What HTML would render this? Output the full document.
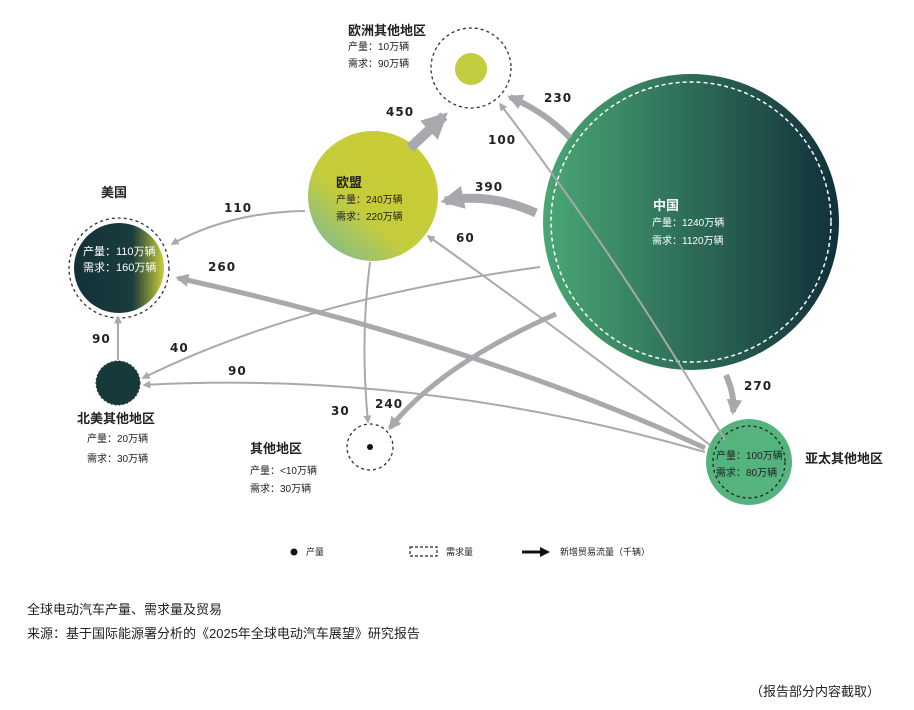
<!DOCTYPE html>
<html><head><meta charset="utf-8"><style>
html,body{margin:0;padding:0;background:#fff;}
svg{display:block;}
text{font-family:"Liberation Sans","Noto Sans CJK SC",sans-serif;}
.n{font-family:"DejaVu Sans","Liberation Sans",sans-serif;font-weight:bold;font-size:12px;fill:#222;letter-spacing:1px;}
.t{font-size:10px;fill:#222;}
.w{font-size:10px;fill:#fff;}
.h{font-size:13px;font-weight:bold;fill:#222;}
</style></head><body>
<svg width="914" height="710" viewBox="0 0 914 710" xmlns="http://www.w3.org/2000/svg">
<defs>
<linearGradient id="cn" x1="0" y1="0" x2="1" y2="0"><stop offset="0" stop-color="#4aa874"/><stop offset="1" stop-color="#11303a"/></linearGradient>
<linearGradient id="eu" x1="0" y1="1" x2="0.6" y2="0.3"><stop offset="0" stop-color="#6db7a6"/><stop offset="0.6" stop-color="#c4cc3c"/><stop offset="1" stop-color="#c8cd36"/></linearGradient>
<linearGradient id="us" x1="0" y1="0" x2="1" y2="0"><stop offset="0" stop-color="#13313a"/><stop offset="0.65" stop-color="#1a3c3c"/><stop offset="1" stop-color="#c9ce3a"/></linearGradient>
<marker id="a" viewBox="0 0 10 10" refX="8" refY="5" markerWidth="4" markerHeight="4" orient="auto"><path d="M0,0L10,5L0,10z" fill="#a7a9ac"/></marker>
<marker id="b" viewBox="0 0 10 10" refX="8" refY="5" markerWidth="2.6" markerHeight="2.6" orient="auto"><path d="M0,0L10,5L0,10z" fill="#a7a9ac"/></marker>
</defs>

<circle cx="691" cy="222" r="148" fill="url(#cn)"/>
<circle cx="691" cy="222" r="140" fill="none" stroke="#fff" stroke-width="1.5" stroke-dasharray="4 3"/>
<circle cx="373" cy="196" r="65" fill="url(#eu)"/>
<circle cx="471" cy="68" r="40" fill="none" stroke="#333" stroke-width="1.3" stroke-dasharray="3 3"/>
<circle cx="471" cy="69" r="16" fill="#c2cc3e"/>
<circle cx="119" cy="268" r="50" fill="none" stroke="#333" stroke-width="1.3" stroke-dasharray="3 3"/>
<circle cx="119" cy="268" r="45" fill="url(#us)"/>
<circle cx="118" cy="383" r="22" fill="#163a3c" stroke="#333" stroke-width="1" stroke-dasharray="2 2"/>
<circle cx="370" cy="447" r="23" fill="none" stroke="#333" stroke-width="1.3" stroke-dasharray="3 3"/>
<circle cx="370" cy="447" r="3" fill="#111"/>
<circle cx="749" cy="462" r="43" fill="#55b37e"/>
<circle cx="749" cy="462" r="36" fill="none" stroke="#222" stroke-width="1.3" stroke-dasharray="3 3"/>

<g fill="none" stroke="#a7a9ac">
<path d="M410,148 L444,116" stroke-width="10" marker-end="url(#b)"/>
<path d="M570,138 Q545,112 510,97" stroke-width="6" marker-end="url(#b)"/>
<path d="M725,440 Q620,260 500,104" stroke-width="2" marker-end="url(#a)"/>
<path d="M536,213 Q490,192 445,201" stroke-width="9" marker-end="url(#b)"/>
<path d="M710,445 Q560,330 428,236" stroke-width="2" marker-end="url(#a)"/>
<path d="M305,211 Q230,212 172,244" stroke-width="2" marker-end="url(#a)"/>
<path d="M705,448 Q480,345 178,278" stroke-width="5" marker-end="url(#b)"/>
<path d="M540,267 Q300,300 143,378" stroke-width="2" marker-end="url(#a)"/>
<path d="M118,360 L118,317" stroke-width="2" marker-end="url(#a)"/>
<path d="M705,452 Q420,370 144,385" stroke-width="2" marker-end="url(#a)"/>
<path d="M370,262 Q360,340 368,422" stroke-width="2" marker-end="url(#a)"/>
<path d="M556,314 Q440,365 390,428" stroke-width="5" marker-end="url(#b)"/>
<path d="M726,375 Q735,395 733,412" stroke-width="6" marker-end="url(#b)"/>
</g>

<text class="n" x="386" y="116">450</text>
<text class="n" x="544" y="102">230</text>
<text class="n" x="488" y="144">100</text>
<text class="n" x="475" y="191">390</text>
<text class="n" x="456" y="242">60</text>
<text class="n" x="224" y="212">110</text>
<text class="n" x="208" y="271">260</text>
<text class="n" x="170" y="352">40</text>
<text class="n" x="92" y="343">90</text>
<text class="n" x="228" y="375">90</text>
<text class="n" x="331" y="415">30</text>
<text class="n" x="375" y="408">240</text>
<text class="n" x="744" y="390">270</text>

<text class="h" x="348" y="35">欧洲其他地区</text>
<text class="t" x="348" y="50">产量：10万辆</text>
<text class="t" x="348" y="67">需求：90万辆</text>
<text class="h" x="336" y="187">欧盟</text>
<text class="t" x="336" y="203">产量：240万辆</text>
<text class="t" x="336" y="220">需求：220万辆</text>
<text class="h" x="101" y="197">美国</text>
<text class="w" x="83" y="255" style="font-size:11px">产量：110万辆</text>
<text class="w" x="83" y="271" style="font-size:11px">需求：160万辆</text>
<text class="h" x="653" y="210" style="fill:#fff">中国</text>
<text class="w" x="652" y="226">产量：1240万辆</text>
<text class="w" x="652" y="244">需求：1120万辆</text>
<text class="h" x="77" y="423">北美其他地区</text>
<text class="t" x="87" y="442">产量：20万辆</text>
<text class="t" x="87" y="462">需求：30万辆</text>
<text class="h" x="250" y="453">其他地区</text>
<text class="t" x="250" y="474">产量：&lt;10万辆</text>
<text class="t" x="250" y="492">需求：30万辆</text>
<text class="t" x="716" y="459">产量：100万辆</text>
<text class="t" x="716" y="476">需求：80万辆</text>
<text class="h" x="805" y="463">亚太其他地区</text>

<circle cx="294" cy="552" r="3.5" fill="#111"/>
<text class="t" x="306" y="555" style="font-size:9px">产量</text>
<rect x="410" y="547" width="27" height="9" fill="none" stroke="#222" stroke-width="1.2" stroke-dasharray="3 2"/>
<text class="t" x="446" y="555" style="font-size:9px">需求量</text>
<path d="M522,552 L545,552" stroke="#111" stroke-width="3"/>
<path d="M540,547 L550,552 L540,557z" fill="#111"/>
<text class="t" x="560" y="555" style="font-size:9px">新增贸易流量（千辆）</text>

<text x="27" y="614" style="font-size:13px;fill:#222">全球电动汽车产量、需求量及贸易</text>
<text x="27" y="638" style="font-size:13px;fill:#222">来源：基于国际能源署分析的《2025年全球电动汽车展望》研究报告</text>
<text x="880" y="696" text-anchor="end" style="font-size:13px;fill:#222">（报告部分内容截取）</text>
</svg>
</body></html>
